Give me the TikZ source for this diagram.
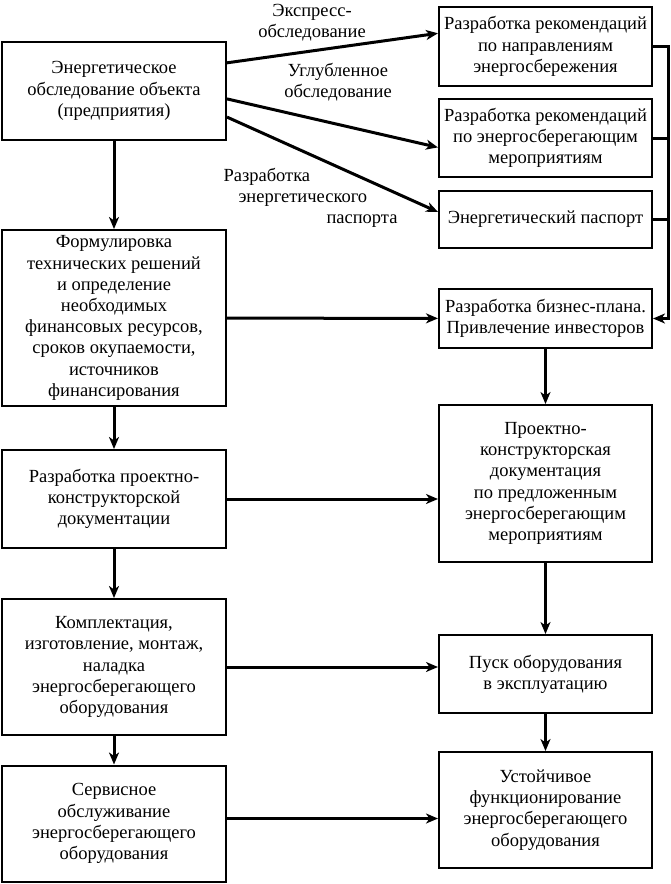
\documentclass[tikz,border=0pt]{standalone}
\usepackage{fontspec}
\setmainfont{Liberation Serif}
\usetikzlibrary{arrows.meta}

\begin{document}
\begin{tikzpicture}[x=1pt,y=-1pt,-,>={Stealth[length=12pt,width=10pt,inset=3.5pt]},line width=3pt,
    main box/.style={draw,line width=2pt,align=center,inner sep=2pt,font=\fontsize{18.5}{21.2}\selectfont},
    left box/.style={main box,minimum width=224pt},
    right box/.style={main box,minimum width=213pt},
    note/.style={align=center,inner sep=0pt,font=\fontsize{18.5}{21.2}\selectfont}]

            \useasboundingbox (0,0) rectangle (670,884);

            \node[left box, minimum height=98pt] (1) at (114,91) {Энергетическое\\обследование объекта\\(предприятия)};
            \node[right box, minimum height=79pt] (2) at (545.5,46.5) {Разработка рекомендаций\\по направлениям\\энергосбережения};
            \node[right box, minimum height=78pt] (3) at (545.5,138) {Разработка рекомендаций\\по энергосберегающим\\мероприятиям};
            \node[right box, minimum height=57pt] (4) at (545.5,219.5) {Энергетический паспорт};
            \node[left box, minimum height=176pt] (5) at (114,318) {Формулировка\\технических решений\\и определение\\необходимых\\финансовых ресурсов,\\сроков окупаемости,\\источников\\финансирования};
            \node[right box, minimum height=59pt] (6) at (545.5,318.5) {Разработка бизнес-плана.\\Привлечение инвесторов};
            \node[left box, minimum height=98pt] (7) at (114,499) {Разработка проектно-\\конструкторской\\документации};
            \node[right box, minimum height=157pt] (8) at (545.5,483.5) {Проектно-\\конструкторская\\документация\\по предложенным\\энергосберегающим\\мероприятиям};
            \node[left box, minimum height=136pt] (9) at (114,667) {Комплектация,\\изготовление, монтаж,\\наладка\\энергосберегающего\\оборудования};
            \node[right box, minimum height=78pt] (10) at (545.5,674) {Пуск оборудования\\в эксплуатацию};
            \node[left box, minimum height=116pt] (11) at (114,823.5) {Сервисное\\обслуживание\\энергосберегающего\\оборудования};
            \node[right box, minimum height=116pt] (12) at (545.5,810) {Устойчивое\\функционирование\\энергосберегающего\\оборудования};

            \node[note] (13) at (312,23) {Экспресс-\\обследование};
            \node[note] (14) at (338,82) {Углубленное\\обследование};
            \node[note, align=left, anchor=west] (15) at (222,198) {Разработка\\\hspace*{15pt}энергетического\\\hspace*{103pt}паспорта};

            \draw[->] (1.14.5) to (2.173);
            \draw[->] (1.-4) to (3.185);
            \draw[->] (1.-13) to (4.176);
            \draw[->] (1) to (5);
            \draw[->] (5) to (7);
            \draw[->] (7) to (9);
            \draw[->] (9) to (11);
            \draw[->] (5) to (6);
            \draw[->] (7.east) to (7.east -| 8.west);
            \draw[->] (9.east) to (9.east -| 10.west);
            \draw[->] ([yshift=5pt]11.east) to ([yshift=5pt]11.east -| 12.west);
            \draw[->] (6) to (8);
            \draw[->] (8) to (10);
            \draw[->] (10) to (12);
            \draw[->] (2.east) -- ++(15,0) |- (6.east);
            \draw[-] (3.east) -- ++(15,0);
            \draw[-] (4.east) -- ++(15,0);

            ;
        \end{tikzpicture}
\end{document}
